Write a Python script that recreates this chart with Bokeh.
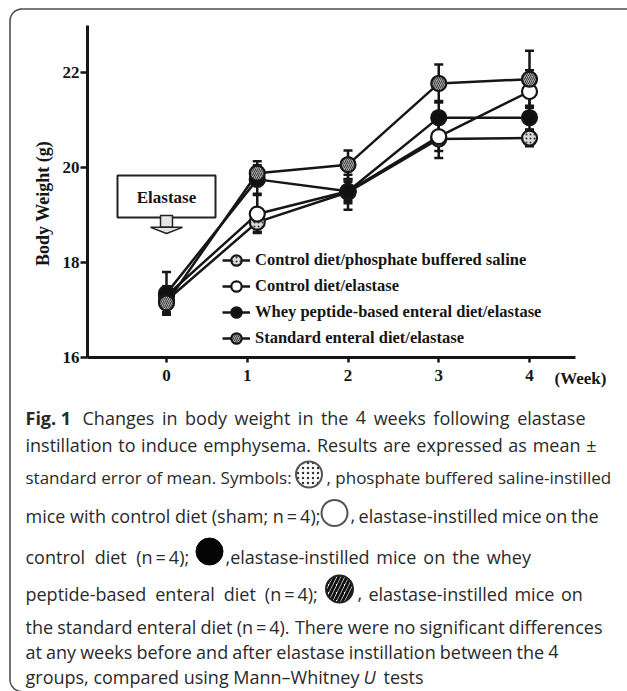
import numpy as np
from bokeh.plotting import figure
from bokeh.models import (Range1d, LinearAxis, FixedTicker, Whisker, TeeHead,
                          ColumnDataSource, Legend, LegendItem)
from bokeh.core.properties import value
from bokeh.embed import file_html
from bokeh.resources import INLINE

# ---------------- data ----------------
weeks = [0, 1, 2, 3, 4]
series_names = ["Control diet/phosphate buffered saline",
                "Control diet/elastase",
                "Whey peptide-based enteral diet/elastase",
                "Standard enteral diet/elastase"]
pbs_mean = [17.20, 18.85, 19.48, 20.60, 20.62]
pbs_sem = [0.25, 0.20, 0.37, 0.40, 0.17]
ctrl_mean = [17.30, 19.02, 19.50, 20.65, 21.60]
ctrl_sem = [0.20, 0.40, 0.25, 0.30, 0.45]
whey_mean = [17.35, 19.75, 19.50, 21.05, 21.05]
whey_sem = [0.45, 0.30, 0.20, 0.35, 0.25]
std_mean = [17.15, 19.88, 20.06, 21.77, 21.86]
std_sem = [0.20, 0.25, 0.30, 0.40, 0.60]

x_tick_pos = [0, 0.89, 2, 3, 4]
x_tick_labels = ["0", "1", "2", "3", "4"]
y_ticks = [16, 18, 20, 22]
y_title = "Body Weight (g)"
x_unit = "(Week)"

N4 = "(n\u2009=\u20094);"
caption_lines = [
    ["Fig. 1", "Changes in body weight in the 4 weeks following elastase"],
    ["instillation to induce emphysema. Results are expressed as mean \u00b1"],
    ["standard error of mean. Symbols:", ", phosphate buffered saline-instilled"],
    ["mice with control diet (sham; n\u2009=\u20094);", ", elastase-instilled mice on the"],
    ["control diet " + N4, ",elastase-instilled mice on the whey"],
    ["peptide-based enteral diet " + N4, ", elastase-instilled mice on"],
    ["the standard enteral diet (n\u2009=\u20094). There were no significant differences"],
    ["at any weeks before and after elastase instillation between the 4"],
    ["groups, compared using Mann\u2013Whitney", "U", "tests"],
]

# ---------------- layout ----------------
W, H = 627, 691
X0_PX, X_PER = 166.0, 90.75     # px of week 0, px per week
Y16_PX, Y_PER = 357.0, 47.5     # px of 16 g, px per g

p = figure(width=W, height=H, output_backend="svg", toolbar_location=None,
           x_range=Range1d(-X0_PX / X_PER, (W - X0_PX) / X_PER),
           y_range=Range1d(16 - (H - Y16_PX) / Y_PER, 16 + Y16_PX / Y_PER),
           x_axis_type=None, y_axis_type=None, min_border=0,
           outline_line_color=None, background_fill_color="white",
           border_fill_color="white")
p.extra_x_ranges = {"px": Range1d(0, W)}
p.extra_y_ranges = {"px": Range1d(H, 0)}
PX = dict(x_range_name="px", y_range_name="px")

INK = "#161616"
SERIF = value("Liberation Serif")
SANS = value("Open Sans")

# axes
yax = LinearAxis(fixed_location=(87 - X0_PX) / X_PER, bounds=(16, 23),
                 ticker=FixedTicker(ticks=y_ticks, minor_ticks=[]),
                 axis_line_width=3, axis_line_color=INK,
                 major_tick_line_width=2.5, major_tick_line_color=INK,
                 major_tick_out=7, major_tick_in=0,
                 minor_tick_line_color=None,
                 major_label_standoff=1,
                 major_label_text_font="Liberation Serif",
                 major_label_text_font_style="bold",
                 major_label_text_font_size="17px",
                 major_label_text_color=INK)
p.add_layout(yax, "left")

xax = LinearAxis(fixed_location=16, bounds=(-0.87, 4.51),
                 ticker=FixedTicker(ticks=x_tick_pos, minor_ticks=[]),
                 major_label_overrides=dict(zip(x_tick_pos, x_tick_labels)),
                 axis_line_width=3, axis_line_color=INK,
                 major_tick_line_width=2.5, major_tick_line_color=INK,
                 major_tick_out=5, major_tick_in=0,
                 minor_tick_line_color=None,
                 major_label_standoff=7,
                 major_label_text_font="Liberation Serif",
                 major_label_text_font_style="bold",
                 major_label_text_font_size="17px",
                 major_label_text_color=INK)
p.add_layout(xax, "below")

# y title (rotated) and x unit
p.text(x=[(42 - X0_PX) / X_PER], y=[16 + (Y16_PX - 203) / Y_PER], text=[y_title],
       angle=np.pi / 2, text_font=SERIF, text_font_style="bold", text_font_size="18px",
       text_align="center", text_baseline="middle", text_color=INK)
p.text(x=[554], y=[378], text=[x_unit], text_font=SERIF, text_font_style="bold",
       text_font_size="17px", text_baseline="middle", text_color=INK, **PX)

# Elastase annotation box and arrow (data units, pointing at week 0)
p.quad(left=[-0.54], right=[0.54], bottom=[18.95], top=[19.83],
       fill_color="white", line_color="#222222", line_width=2)
p.text(x=[0], y=[19.37], text=["Elastase"], text_font=SERIF, text_font_style="bold",
       text_font_size="17px", text_align="center", text_baseline="middle", text_color=INK)
p.quad(left=[-0.066], right=[0.066], bottom=[18.74], top=[18.99],
       fill_color="#e4e4e4", line_color="#222222", line_width=1.5)
p.patch(x=[-0.175, 0.175, 0], y=[18.74, 18.74, 18.61],
        fill_color="#e4e4e4", line_color="#222222", line_width=1.5)

# series
means = [pbs_mean, ctrl_mean, whey_mean, std_mean]
sems = [pbs_sem, ctrl_sem, whey_sem, std_sem]
styles = [dict(fill_color="#dadada", hatch_pattern="dot", hatch_color="#333333",
               hatch_scale=4, hatch_weight=1.5),
          dict(fill_color="white"),
          dict(fill_color="#111111"),
          dict(fill_color="#a0a0a0", hatch_pattern="right_diagonal_line",
               hatch_color="#444444", hatch_scale=4, hatch_weight=1)]

for m, s in zip(means, sems):
    src = ColumnDataSource(dict(x=weeks, upper=[a + b for a, b in zip(m, s)],
                                lower=[a - b for a, b in zip(m, s)]))
    p.add_layout(Whisker(source=src, base="x", upper="upper", lower="lower",
                         line_width=2.5, line_color=INK,
                         upper_head=TeeHead(size=9, line_width=2.5, line_color=INK),
                         lower_head=TeeHead(size=9, line_width=2.5, line_color=INK)))

items = []
line_rs = []
for m in means:
    line_rs.append(p.line(weeks, m, line_color=INK, line_width=2.5))
for name, m, st, lr in zip(series_names, means, styles, line_rs):
    sr = p.scatter(weeks, m, marker="circle", size=15, line_color=INK,
                   line_width=2.2, **st)
    items.append(LegendItem(label=name, renderers=[lr, sr]))

legend = Legend(items=items, location=(222, 340), orientation="vertical",
                glyph_width=28, glyph_height=26, label_height=26, spacing=0,
                label_standoff=5, padding=0, margin=0,
                border_line_color=None, background_fill_alpha=0,
                label_text_font="Liberation Serif", label_text_font_style="bold",
                label_text_font_size="16.5px", label_text_color=INK)
p.add_layout(legend)

# outer rounded frame (left and top edges visible)
r = 12
th1 = np.linspace(1.5 * np.pi, np.pi, 24)            # top-left corner, top -> left
th2 = np.linspace(np.pi, 0.5 * np.pi, 24)            # bottom-left corner
bx = [W + 10] + list(9.5 + r + r * np.cos(th1)) + list(9.5 + r + r * np.cos(th2))
by = [8.5] + list(8.5 + r + r * np.sin(th1)) + \
     list(679 + r * np.sin(np.linspace(0, 0.5 * np.pi, 24)))
p.line(bx, by, line_color="#4f4f4f", line_width=1.6, **PX)

# ---------------- caption ----------------
# approximate Open Sans advance widths (units per 2048 em), used to spread words
OS_W = {" ": 532, "(": 596, ")": 596, ",": 502, "-": 659, ".": 545, ":": 545,
        ";": 545, "=": 1171, "\u00b1": 1171, "\u2013": 1024, "\u2009": 410,
        "C": 1292, "M": 1853, "R": 1290, "S": 1104, "T": 1139, "U": 1479,
        "W": 1942, "a": 1139, "b": 1255, "c": 975, "d": 1255, "e": 1149,
        "f": 694, "g": 1122, "h": 1257, "i": 518, "k": 1075, "l": 518,
        "m": 1905, "n": 1257, "o": 1237, "p": 1255, "r": 836, "s": 977,
        "t": 723, "u": 1257, "v": 1026, "w": 1593, "x": 1073, "y": 1028}


def text_w(s, size):
    return sum(OS_W.get(ch, 1171) for ch in s) / 2048.0 * size


CAP = dict(text_font=SANS, text_font_size="18px", text_color="#2a2a2a",
           text_baseline="alphabetic", **PX)
CAP17 = dict(CAP, text_font_size="17px")


def spread(s, x0, x1, y, size=18, frac=1.0, **kw):
    """Place words from x0, widening/narrowing spaces by `frac` of the slack to x1."""
    words = s.split(" ")
    widths = [text_w(w, size) for w in words]
    n_gaps = max(len(words) - 1, 1)
    natural_gap = text_w(" ", size)
    full_gap = (x1 - x0 - sum(widths)) / n_gaps
    gap = natural_gap + frac * (full_gap - natural_gap)
    xs, x = [], x0
    for w in widths:
        xs.append(x)
        x += w + gap
    opts = dict(CAP, text_font_size=f"{size}px")
    opts.update(kw)
    p.text(x=xs, y=[y] * len(words), text=words, **opts)


baselines = [417, 444, 477, 515, 556, 593, 626, 651, 676]
L = 25
# line 1
p.text(x=[L], y=[baselines[0]], text=[caption_lines[0][0]], text_font_style="bold", **CAP)
spread(caption_lines[0][1], 82, 585, baselines[0])
# line 2
spread(caption_lines[1][0], L, 596, baselines[1])
# line 3 (stippled symbol)
p.text(x=[L], y=[baselines[2]], text=[caption_lines[2][0]], **CAP17)
p.scatter([308.5], [474], marker="circle", size=26, fill_color="white",
          hatch_pattern="dot", hatch_color="#333333", hatch_scale=5, hatch_weight=1.6,
          line_color="#555555", line_width=2, **PX)
p.text(x=[326], y=[baselines[2]], text=[caption_lines[2][1]], **CAP17)
# line 4 (open symbol)
p.text(x=[L], y=[baselines[3]], text=[caption_lines[3][0]], **CAP)
p.scatter([334], [512.5], marker="circle", size=26, fill_color="white",
          line_color="#555555", line_width=2, **PX)
spread(caption_lines[3][1], 350, 594, baselines[3], frac=0.5)
# line 5 (black symbol)
spread(caption_lines[4][0], L, 194, baselines[4], frac=0.7)
p.scatter([209], [551], marker="circle", size=27, fill_color="#050505",
          line_color="#050505", line_width=1, **PX)
spread(caption_lines[4][1], 225, 540, baselines[4], frac=0.5)
# line 6 (hatched symbol)
spread(caption_lines[5][0], L, 324, baselines[5], frac=0.7)
p.scatter([339], [588.5], marker="circle", size=27, fill_color="white",
          hatch_pattern="right_diagonal_line", hatch_color="#111111", hatch_scale=8,
          hatch_weight=3, line_color="#222222", line_width=2, **PX)
spread(caption_lines[5][1], 357, 588, baselines[5], frac=0.5)
# lines 7, 8
spread(caption_lines[6][0], L, 602, baselines[6])
spread(caption_lines[7][0], L, 558, baselines[7])
# line 9 with italic U
p.text(x=[L], y=[baselines[8]], text=[caption_lines[8][0]], **CAP)
p.text(x=[363], y=[baselines[8]], text=[caption_lines[8][1]], text_font_style="italic", **CAP)
p.text(x=[383], y=[baselines[8]], text=[caption_lines[8][2]], **CAP)

open("out.html", "w").write(file_html(p, INLINE))
